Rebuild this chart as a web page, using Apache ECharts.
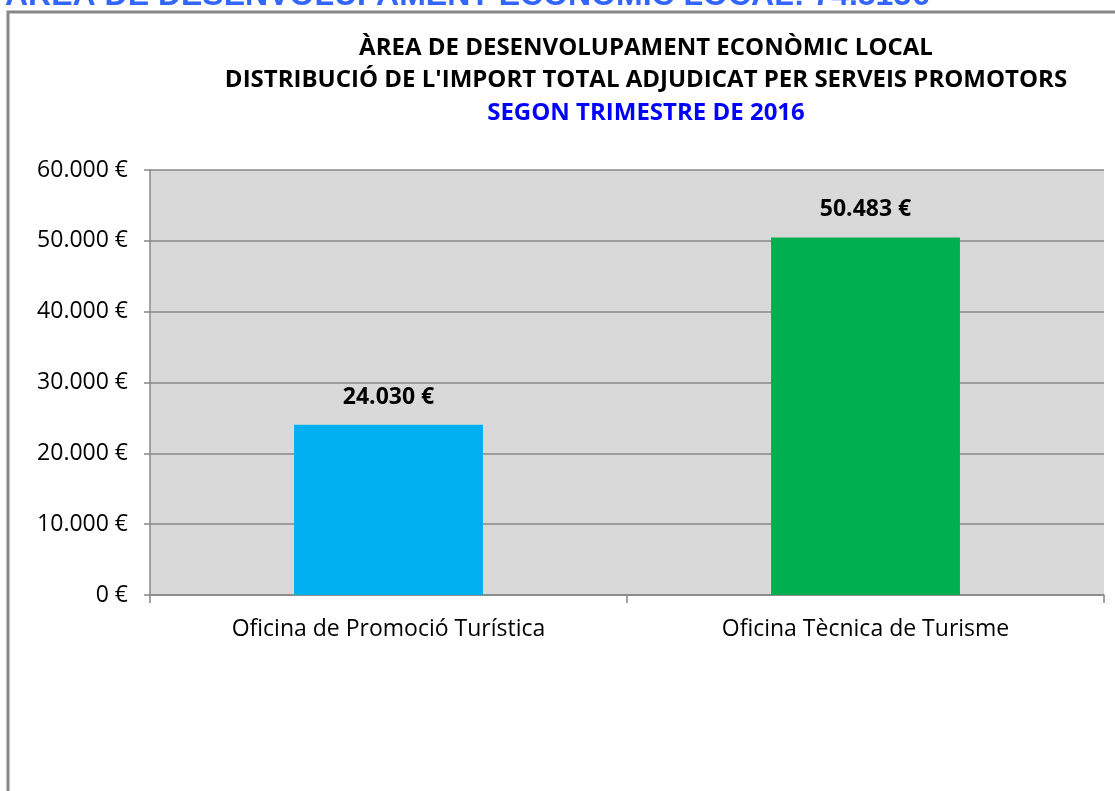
<!DOCTYPE html>
<html>
<head>
<meta charset="utf-8">
<script src="https://cdn.jsdelivr.net/npm/echarts@6/dist/echarts.min.js"></script>
<style>
  html, body { margin: 0; padding: 0; background: #fff; }
  #chart { width: 1115px; height: 791px; }
</style>
</head>
<body>
<div id="chart"></div>
<script>
// dades del gràfic
const categories = ['Oficina de Promoció Turística', 'Oficina Tècnica de Turisme']
const imports = [24030, 50483]
const barColors = ['#00B0F0', '#00B050']
const titleLines = [
  'ÀREA DE DESENVOLUPAMENT ECONÒMIC LOCAL',
  "DISTRIBUCIÓ DE L'IMPORT TOTAL ADJUDICAT PER SERVEIS PROMOTORS",
  'SEGON TRIMESTRE DE 2016',
]
const headerText = 'ÀREA DE DESENVOLUPAMENT ECONÒMIC LOCAL: 74.513€'

const font = '"Open Sans", "Noto Sans", sans-serif'

const formatEuro = (v) => {
  return String(Math.round(v)).replace(/\B(?=(\d{3})+(?!\d))/g, '.') + ' €'
}

const chart = echarts.init(document.getElementById('chart'))

chart.setOption({
  backgroundColor: '#ffffff',
  animation: false,
  title: titleLines.map((t, i) => ({
    text: t,
    left: 641,
    top: 31 + i * 32.5,
    textAlign: 'center',
    textStyle: {
      fontFamily: font,
      fontWeight: 'bold',
      fontSize: 24,
      color: i === 2 ? '#0000FF' : '#000000',
    },
  })),
  graphic: [
    {
      type: 'rect',
      shape: { x: 8, y: 12, width: 1300, height: 1000 },
      style: { fill: 'none', stroke: '#878787', lineWidth: 3 },
      silent: true,
    },
    {
      type: 'text',
      x: 5,
      y: -4,
      style: {
        text: headerText,
        fontFamily: 'Arial, "Liberation Sans", sans-serif',
        fontWeight: 'bold',
        fontSize: 32,
        fill: '#3366FF',
        verticalAlign: 'middle',
      },
      silent: true,
    },
  ],
  grid: {
    left: 150,
    right: 11,
    top: 170,
    bottom: 196,
    show: true,
    backgroundColor: '#D9D9D9',
    borderWidth: 0,
  },
  xAxis: {
    type: 'category',
    data: categories,
    axisLine: { lineStyle: { color: '#878787', width: 1.5 } },
    axisTick: { show: true, length: 8, lineStyle: { color: '#878787', width: 1.5 } },
    axisLabel: {
      margin: 23,
      fontFamily: font,
      fontSize: 23,
      color: '#000000',
    },
  },
  yAxis: {
    type: 'value',
    min: 0,
    max: 60000,
    interval: 10000,
    axisLine: { show: true, lineStyle: { color: '#878787', width: 1.5 } },
    axisTick: { show: true, length: 6, lineStyle: { color: '#878787', width: 1.5 } },
    splitLine: { lineStyle: { color: '#878787', width: 1.5 } },
    axisLabel: {
      margin: 22,
      fontFamily: font,
      fontSize: 23,
      color: '#000000',
      formatter: formatEuro,
    },
  },
  series: [
    {
      type: 'bar',
      data: imports.map((v, i) => ({ value: v, itemStyle: { color: barColors[i] } })),
      barWidth: '39.6%',
      label: {
        show: true,
        position: 'top',
        distance: 16,
        fontFamily: font,
        fontWeight: 'bold',
        fontSize: 23,
        color: '#000000',
        formatter: (p) => formatEuro(p.value),
      },
    },
  ],
})
</script>
</body>
</html>
